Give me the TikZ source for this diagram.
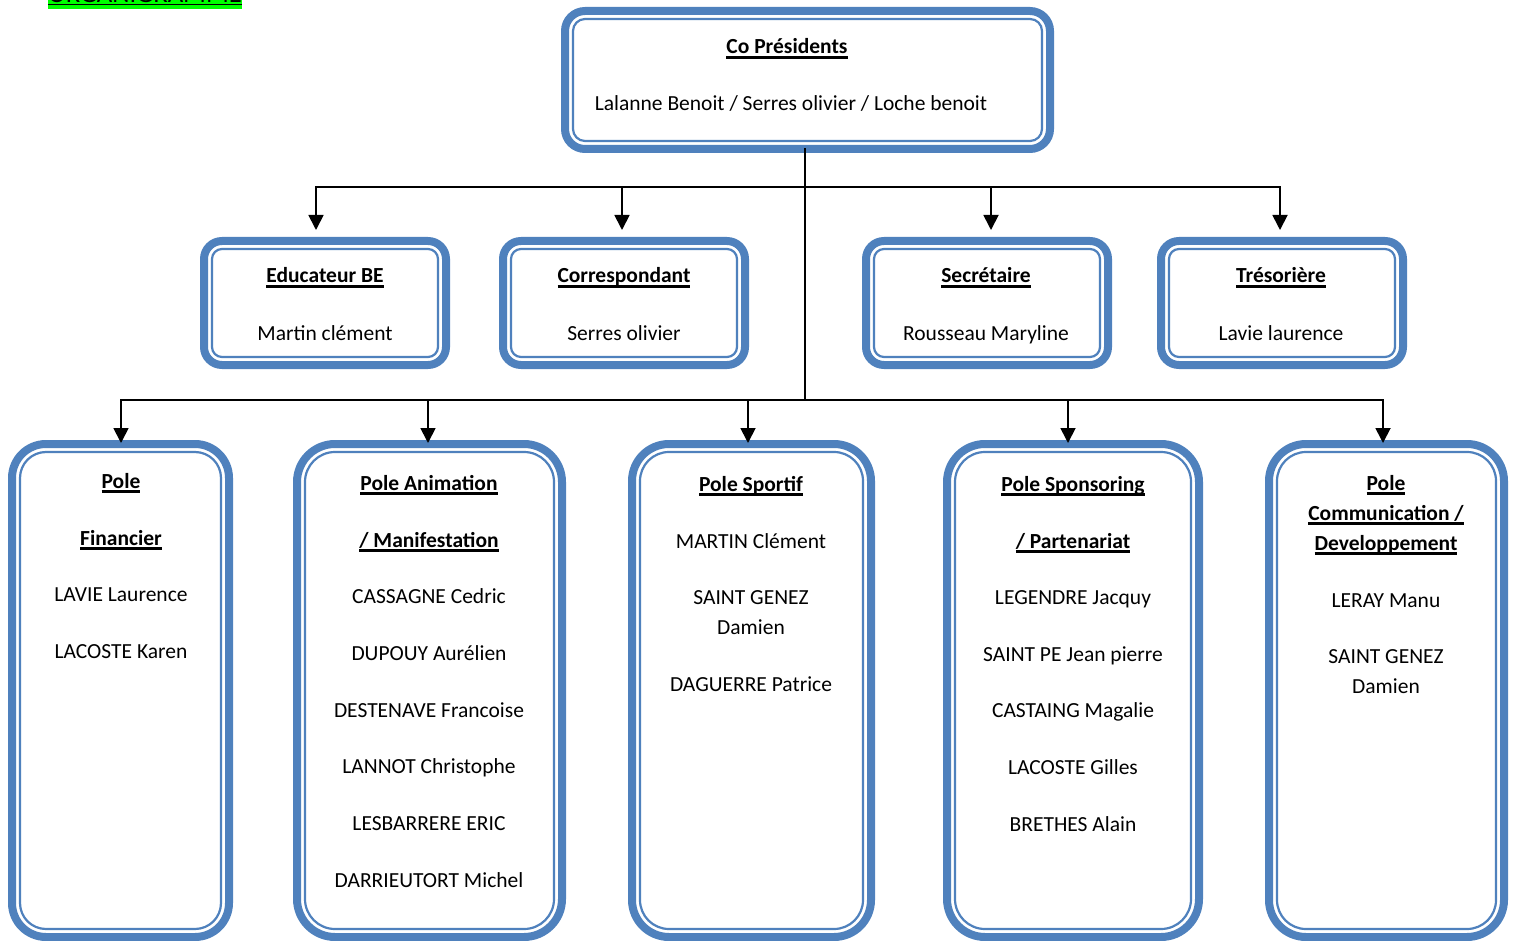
\documentclass[tikz,border=0pt]{standalone}
\usepackage{fontspec}
\setmainfont{Carlito}
\usetikzlibrary{arrows.meta}
\definecolor{boxblue}{RGB}{79,129,189}
\newcommand\hdr[1]{\setbox0\hbox{\bfseries #1}\rlap{\rule[-4.6pt]{\wd0}{2.2pt}}\box0}
% \obox{name}{cx}{cy}{outer w}{outer h}{node r}{inner r}
\newcommand\obox[7]{%
  \node[outerbox, minimum width=#4pt-8pt, minimum height=#5pt-8pt, rounded corners=#6pt] (#1) at (#2,#3) {};
  \draw[innerbox, rounded corners=#7pt] ([shift={(8pt,-8pt)}]#1.north west) rectangle ([shift={(-8pt,8pt)}]#1.south east);
}
\tikzset{
  outerbox/.style={draw=boxblue, line width=8pt, fill=white, inner sep=0pt, outer sep=0pt, rectangle},
  innerbox/.style={draw=boxblue, line width=2.2pt},
  txt/.style={anchor=base, inner sep=0pt, font=\fontsize{21.5}{26}\selectfont},
  conn/.style={draw=black, line width=1.8pt, line cap=rect},
  arr/.style={draw=black, line width=1.8pt, -{Triangle[width=15pt,length=15pt]}},
}
\begin{document}
\begin{tikzpicture}[x=1pt,y=-1pt]
\useasboundingbox (0,0) rectangle (1515,941);
\begin{scope}
\clip (0,0) rectangle (1515,941);
% title (cut off at top in the reference)
\fill[green] (48,-30) rectangle (242,9);
\node[anchor=base west, inner sep=0pt, font=\fontsize{26.7}{30}\selectfont] (title) at (48,2.4) {\underline{ORGANIGRAMME}};

% boxes
\obox{top}{807.5}{80}{493}{146}{20}{12}
\obox{edu}{325}{303}{250}{132}{18}{10}
\obox{cor}{624}{303}{250}{132}{18}{10}
\obox{sec}{987}{303}{250}{132}{18}{10}
\obox{tre}{1282}{303}{250}{132}{18}{10}
\obox{fin}{120.5}{690.5}{225}{501}{34}{26}
\obox{ani}{429.5}{690.5}{273}{501}{38}{30}
\obox{spo}{751.5}{690.5}{247}{501}{37}{29}
\obox{spn}{1073}{690.5}{260}{501}{38}{30}
\obox{com}{1386.5}{690.5}{243}{501}{37}{29}

% texts
\node[txt] (t1) at (787,54) {\hdr{Co Présidents}};
\node[txt] (t2) at (791,111) {Lalanne Benoit / Serres olivier / Loche benoit};

\node[txt] (e1) at (325,283) {\hdr{Educateur BE}};
\node[txt] (e2) at (325,340) {Martin clément};
\node[txt] (c1) at (624,283) {\hdr{Correspondant}};
\node[txt] (c2) at (624,340) {Serres olivier};
\node[txt] (s1) at (986,283) {\hdr{Secrétaire}};
\node[txt] (s2) at (986,340) {Rousseau Maryline};
\node[txt] (r1) at (1281,283) {\hdr{Trésorière}};
\node[txt] (r2) at (1281,340) {Lavie laurence};

\node[txt] (f1) at (121,488) {\hdr{Pole}};
\node[txt] (f2) at (121,545) {\hdr{Financier}};
\node[txt] (f3) at (121,601) {LAVIE Laurence};
\node[txt] (f4) at (121,658) {LACOSTE Karen};

\node[txt] (a1t) at (429,490) {\hdr{Pole Animation}};
\node[txt] (a2t) at (429,547) {\hdr{/ Manifestation}};
\node[txt] (a3t) at (429,603) {CASSAGNE Cedric};
\node[txt] (a4t) at (429,660) {DUPOUY Aurélien};
\node[txt] (a5t) at (429,717) {DESTENAVE Francoise};
\node[txt] (a6t) at (429,773) {LANNOT Christophe};
\node[txt] (a7t) at (429,830) {LESBARRERE ERIC};
\node[txt] (a8t) at (429,887) {DARRIEUTORT Michel};

\node[txt] (p1) at (751,491) {\hdr{Pole Sportif}};
\node[txt] (p2) at (751,548) {MARTIN Clément};
\node[txt] (p3) at (751,604) {SAINT GENEZ};
\node[txt] (p4) at (751,634) {Damien};
\node[txt] (p5) at (751,691) {DAGUERRE Patrice};

\node[txt] (n1) at (1073,491) {\hdr{Pole Sponsoring}};
\node[txt] (n2) at (1073,548) {\hdr{/ Partenariat}};
\node[txt] (n3) at (1073,604) {LEGENDRE Jacquy};
\node[txt] (n4) at (1073,661) {SAINT PE Jean pierre};
\node[txt] (n5) at (1073,717) {CASTAING Magalie};
\node[txt] (n6) at (1073,774) {LACOSTE Gilles};
\node[txt] (n7) at (1073,831) {BRETHES Alain};

\node[txt] (m1) at (1386,490) {\hdr{Pole}};
\node[txt] (m2) at (1386,520) {\hdr{Communication /}};
\node[txt] (m3) at (1386,550) {\hdr{Developpement}};
\node[txt] (m4) at (1386,607) {LERAY Manu};
\node[txt] (m5) at (1386,663) {SAINT GENEZ};
\node[txt] (m6) at (1386,693) {Damien};

% connectors
\coordinate (j1) at (805,187);
\coordinate (j2) at (805,400);
\coordinate (u1) at (316,187);
\coordinate (u2) at (622,187);
\coordinate (u3) at (991,187);
\coordinate (u4) at (1280,187);
\coordinate (v1) at (121,400);
\coordinate (v2) at (428,400);
\coordinate (v3) at (748,400);
\coordinate (v4) at (1068,400);
\coordinate (v5) at (1383,400);

\draw[conn] (top.south -| j2) -- (j2);
\draw[conn] (u1) -- (u4);
\draw[conn] (v1) -- (v5);
\draw[arr, shorten >=11pt] (u1) -- (u1 |- edu.north);
\draw[arr, shorten >=11pt] (u2) -- (u2 |- cor.north);
\draw[arr, shorten >=11pt] (u3) -- (u3 |- sec.north);
\draw[arr, shorten >=11pt] (u4) -- (u4 |- tre.north);
\draw[arr, shorten >=1pt] (v1) -- (v1 |- fin.north);
\draw[arr, shorten >=1pt] (v2) -- (v2 |- ani.north);
\draw[arr, shorten >=1pt] (v3) -- (v3 |- spo.north);
\draw[arr, shorten >=1pt] (v4) -- (v4 |- spn.north);
\draw[arr, shorten >=1pt] (v5) -- (v5 |- com.north);
\end{scope}
\end{tikzpicture}
\end{document}
